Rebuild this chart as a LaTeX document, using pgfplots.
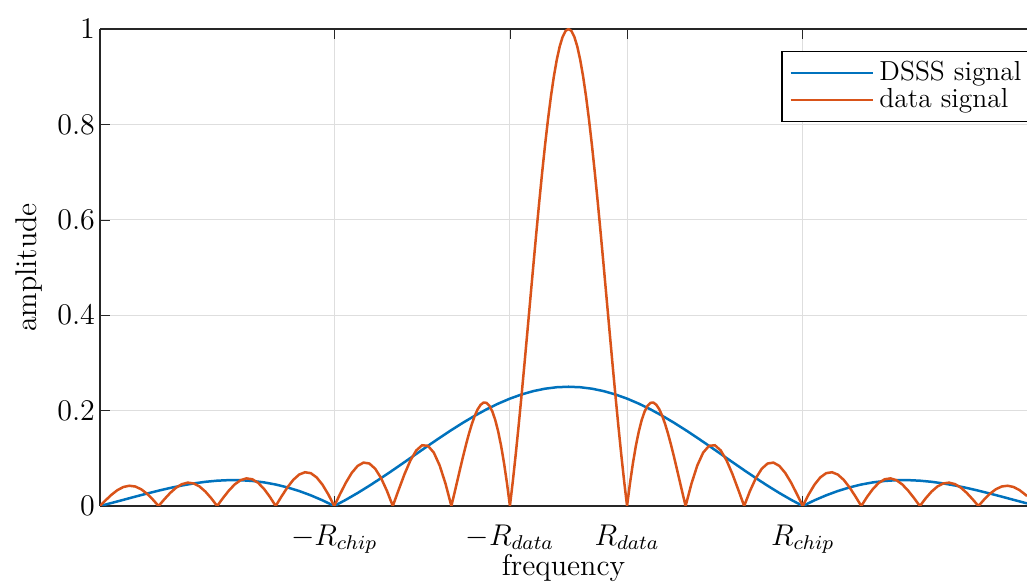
\documentclass[border=0pt]{standalone}
\usepackage{pgfplots}
\pgfplotsset{compat=1.18}
\definecolor{mblue}{rgb}{0,0.447,0.741}
\definecolor{morange}{rgb}{0.85,0.325,0.098}
\begin{document}
\begin{tikzpicture}
\begin{axis}[
  scale only axis, width=370.8pt, height=190.8pt,
  font=\fontsize{12}{14}\selectfont,
  xmin=-8, xmax=7.83, ymin=0, ymax=1,
  axis x line=box, axis y line=left,
  y axis line style={-}, axis line style={black!85, line width=0.5pt},
  xtick={-4,-1,1,4},
  xticklabels={$-R_{chip}$,$-R_{data}$,$R_{data}$,$R_{chip}$},
  ytick={0,0.2,0.4,0.6,0.8,1},
  yticklabels={0,0.2,0.4,0.6,0.8,1},
  xticklabel style={yshift=-4pt},
  yticklabel style={xshift=1.5pt},
  tick align=inside, major tick length=4pt, tick style={black!85},
  grid=major, grid style={black!13, line width=0.4pt},
  xlabel={frequency}, ylabel={amplitude},
  xlabel style={at={(axis description cs:0.5,0)}, anchor=center, yshift=-24.8pt},
  ylabel style={xshift=0pt, yshift=-1pt},
  legend style={at={(rel axis cs:1,1)}, anchor=north east, xshift=3pt, yshift=-8.8pt,
    draw=black, line width=0.5pt, inner xsep=3pt, inner ysep=2pt,
    font=\fontsize{11}{13}\selectfont, row sep=-2.5pt},
  legend cell align=left,
  legend image code/.code={\draw[#1] (0pt,0pt) -- (33pt,0pt);},
]
\coordinate (sw) at (rel axis cs:0,0);
\coordinate (ne) at (rel axis cs:1,1);
% DSSS: 0.25|sinc(f/Rchip)|, f in units of Rdata
\addplot[mblue, line width=1pt] coordinates {
 (-8.0,0) (-7.8,0.00639) (-7.6,0.01294) (-7.4,0.01953) (-7.2,0.02599)
 (-7.0,0.03216) (-6.8,0.03787) (-6.6,0.04297) (-6.4,0.04730) (-6.2,0.05071)
 (-6.0,0.05305) (-5.8,0.05421) (-5.6,0.05406) (-5.4,0.05252) (-5.2,0.04952)
 (-5.0,0.04502) (-4.8,0.03898) (-4.6,0.03142) (-4.4,0.02236) (-4.2,0.01186)
 (-4.0,0) (-3.8,0.01311) (-3.6,0.02732) (-3.4,0.04250) (-3.2,0.05847)
 (-3.0,0.07503) (-2.8,0.09197) (-2.6,0.10908) (-2.4,0.12614) (-2.2,0.14291)
 (-2.0,0.15915) (-1.8,0.17466) (-1.6,0.18921) (-1.4,0.20258) (-1.2,0.21460)
 (-1.0,0.22508) (-0.8,0.23387) (-0.6,0.24085) (-0.4,0.24591) (-0.2,0.24897)
 (0,0.25)
 (0.2,0.24897) (0.4,0.24591) (0.6,0.24085) (0.8,0.23387) (1.0,0.22508)
 (1.2,0.21460) (1.4,0.20258) (1.6,0.18921) (1.8,0.17466) (2.0,0.15915)
 (2.2,0.14291) (2.4,0.12614) (2.6,0.10908) (2.8,0.09197) (3.0,0.07503)
 (3.2,0.05847) (3.4,0.04250) (3.6,0.02732) (3.8,0.01311) (4.0,0)
 (4.2,0.01186) (4.4,0.02236) (4.6,0.03142) (4.8,0.03898) (5.0,0.04502)
 (5.2,0.04952) (5.4,0.05252) (5.6,0.05406) (5.8,0.05421) (6.0,0.05305)
 (6.2,0.05071) (6.4,0.04730) (6.6,0.04297) (6.8,0.03787) (7.0,0.03216)
 (7.2,0.02599) (7.4,0.01953) (7.6,0.01294) (7.8,0.00639) (7.83,0.00541)};
\addlegendentry{DSSS signal}
% data: |sinc(f/Rdata)|
\addplot[morange, line width=1pt] coordinates {
 (-8.0,0) (-7.9,0.01245) (-7.8,0.02399) (-7.7,0.03344) (-7.6,0.03983)
 (-7.5,0.04244) (-7.4,0.04091) (-7.3,0.03528) (-7.2,0.02599) (-7.1,0.01385)
 (-7.0,0) (-6.9,0.01426) (-6.8,0.02751) (-6.7,0.03844) (-6.6,0.04587)
 (-6.5,0.04897) (-6.4,0.04730) (-6.3,0.04088) (-6.2,0.03018) (-6.1,0.01613)
 (-6.0,0) (-5.9,0.01667) (-5.8,0.03226) (-5.7,0.04518) (-5.6,0.05406)
 (-5.5,0.05787) (-5.4,0.05606) (-5.3,0.04859) (-5.2,0.03598) (-5.1,0.01929)
 (-5.0,0) (-4.9,0.02007) (-4.8,0.03898) (-4.7,0.05479) (-4.6,0.06581)
 (-4.5,0.07074) (-4.4,0.06880) (-4.3,0.05989) (-4.2,0.04455) (-4.1,0.02399)
 (-4.0,0) (-3.9,0.02522) (-3.8,0.04924) (-3.7,0.06960) (-3.6,0.08409)
 (-3.5,0.09095) (-3.4,0.08904) (-3.3,0.07804) (-3.2,0.05847) (-3.1,0.03173)
 (-3.0,0) (-2.9,0.03392) (-2.8,0.06682) (-2.7,0.09538) (-2.6,0.11644)
 (-2.5,0.12732) (-2.4,0.12614) (-2.3,0.11196) (-2.2,0.08504) (-2.1,0.04684)
 (-2.0,0) (-1.95,0.02554) (-1.9,0.05177) (-1.85,0.07811) (-1.8,0.10394)
 (-1.75,0.12862) (-1.7,0.15148) (-1.65,0.17189) (-1.6,0.18921) (-1.55,0.20283)
 (-1.5,0.21221) (-1.45,0.21682) (-1.4,0.21624) (-1.35,0.21009) (-1.3,0.19809)
 (-1.25,0.18006) (-1.2,0.15591) (-1.15,0.12566) (-1.1,0.08942) (-1.05,0.04742)
 (-1.0,0) (-0.95,0.05242) (-0.9,0.10929) (-0.85,0.17001) (-0.8,0.23387)
 (-0.75,0.30011) (-0.7,0.36788) (-0.65,0.43633) (-0.6,0.50455) (-0.55,0.57162)
 (-0.5,0.63662) (-0.45,0.69865) (-0.4,0.75683) (-0.35,0.81033) (-0.3,0.85839)
 (-0.25,0.90032) (-0.2,0.93549) (-0.15,0.96340) (-0.1,0.98363) (-0.05,0.99589)
 (0,1)
 (0.05,0.99589) (0.1,0.98363) (0.15,0.96340) (0.2,0.93549) (0.25,0.90032)
 (0.3,0.85839) (0.35,0.81033) (0.4,0.75683) (0.45,0.69865) (0.5,0.63662)
 (0.55,0.57162) (0.6,0.50455) (0.65,0.43633) (0.7,0.36788) (0.75,0.30011)
 (0.8,0.23387) (0.85,0.17001) (0.9,0.10929) (0.95,0.05242) (1.0,0)
 (1.05,0.04742) (1.1,0.08942) (1.15,0.12566) (1.2,0.15591) (1.25,0.18006)
 (1.3,0.19809) (1.35,0.21009) (1.4,0.21624) (1.45,0.21682) (1.5,0.21221)
 (1.55,0.20283) (1.6,0.18921) (1.65,0.17189) (1.7,0.15148) (1.75,0.12862)
 (1.8,0.10394) (1.85,0.07811) (1.9,0.05177) (1.95,0.02554) (2.0,0)
 (2.1,0.04684) (2.2,0.08504) (2.3,0.11196) (2.4,0.12614) (2.5,0.12732)
 (2.6,0.11644) (2.7,0.09538) (2.8,0.06682) (2.9,0.03392) (3.0,0)
 (3.1,0.03173) (3.2,0.05847) (3.3,0.07804) (3.4,0.08904) (3.5,0.09095)
 (3.6,0.08409) (3.7,0.06960) (3.8,0.04924) (3.9,0.02522) (4.0,0)
 (4.1,0.02399) (4.2,0.04455) (4.3,0.05989) (4.4,0.06880) (4.5,0.07074)
 (4.6,0.06581) (4.7,0.05479) (4.8,0.03898) (4.9,0.02007) (5.0,0)
 (5.1,0.01929) (5.2,0.03598) (5.3,0.04859) (5.4,0.05606) (5.5,0.05787)
 (5.6,0.05406) (5.7,0.04518) (5.8,0.03226) (5.9,0.01667) (6.0,0)
 (6.1,0.01613) (6.2,0.03018) (6.3,0.04088) (6.4,0.04730) (6.5,0.04897)
 (6.6,0.04587) (6.7,0.03844) (6.8,0.02751) (6.9,0.01426) (7.0,0)
 (7.1,0.01385) (7.2,0.02599) (7.3,0.03528) (7.4,0.04091) (7.5,0.04244)
 (7.6,0.03983) (7.7,0.03344) (7.8,0.02399) (7.83,0.02069)};
\addlegendentry{data signal}
\end{axis}
\pgfresetboundingbox
\path[use as bounding box] ([xshift=-40pt,yshift=-31.6pt]sw) rectangle ([yshift=11.6pt]ne);
\end{tikzpicture}
\end{document}
